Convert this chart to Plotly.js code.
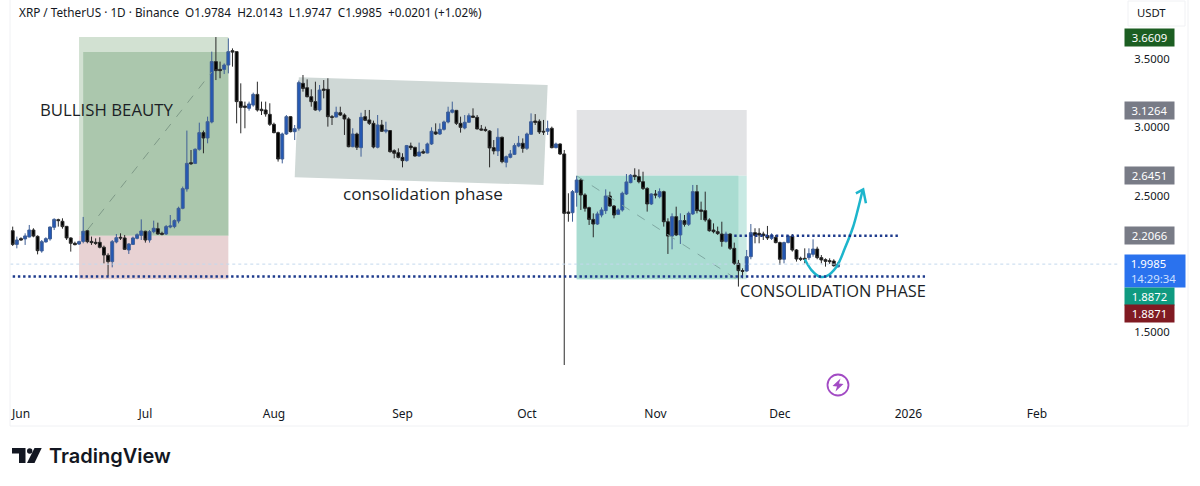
<!DOCTYPE html>
<html>
<head>
<meta charset="utf-8">
<script src="https://cdn.plot.ly/plotly-3.0.1.min.js"></script>
<style>html,body{margin:0;padding:0;background:#fff}#c{width:1200px;height:486px}</style>
</head>
<body>
<div id="c"></div>
<script>
const firstDay = '2025-05-30';
const open = [
2.243,2.143,2.185,2.183,2.197,2.248,2.202,2.095,2.161,2.183,2.268,2.324,2.312,2.275,2.190,2.151,2.146,2.165,2.243,2.165,
2.158,2.158,2.122,2.063,2.017,2.161,2.195,2.190,2.102,2.143,2.187,2.209,2.239,2.175,2.236,2.258,2.224,2.219,2.270,2.273,
2.314,2.407,2.549,2.741,2.736,2.839,2.961,2.922,3.039,3.481,3.424,3.424,3.456,3.561,3.554,3.188,3.156,3.139,3.163,3.241,
3.132,3.127,3.095,3.022,2.961,2.768,2.951,3.078,2.968,2.993,3.322,3.290,3.224,3.188,3.127,3.280,3.278,3.078,3.075,3.107,
3.090,3.061,2.858,2.951,2.851,3.078,3.054,3.029,2.854,3.017,2.971,2.976,2.829,2.814,2.780,2.756,2.863,2.853,2.790,2.822,
2.812,2.878,2.966,2.951,2.985,3.039,3.110,3.124,3.029,2.995,3.037,3.083,3.073,2.988,2.985,2.973,2.851,2.827,2.927,2.744,
2.780,2.802,2.863,2.883,2.846,2.949,3.046,3.044,2.971,2.971,2.993,2.851,2.878,2.805,2.380,2.375,2.524,2.614,2.505,2.412,
2.326,2.292,2.358,2.390,2.497,2.424,2.363,2.395,2.512,2.595,2.649,2.639,2.602,2.553,2.439,2.512,2.492,2.529,2.309,2.204,
2.346,2.212,2.317,2.290,2.366,2.529,2.395,2.390,2.322,2.248,2.236,2.219,2.165,2.219,2.114,2.004,1.951,1.948,2.053,2.229,
2.224,2.219,2.207,2.187,2.195,2.156,2.034,2.156,2.204,2.102,2.041,2.041,2.046,2.070,2.109,2.046,2.031,2.024,2.021,1.9784];
const high = [
2.273,2.200,2.195,2.224,2.285,2.261,2.209,2.175,2.195,2.273,2.334,2.331,2.334,2.278,2.195,2.163,2.170,2.344,2.248,2.200,
2.187,2.195,2.134,2.078,2.175,2.219,2.224,2.212,2.151,2.200,2.224,2.326,2.243,2.248,2.317,2.302,2.236,2.285,2.358,2.326,
2.419,2.566,2.976,2.834,2.846,3.034,2.976,3.078,3.554,3.6609,3.481,3.468,3.651,3.578,3.554,3.322,3.188,3.188,3.254,3.334,
3.188,3.188,3.176,3.034,2.968,2.961,3.090,3.083,3.017,3.342,3.383,3.351,3.278,3.334,3.310,3.346,3.359,3.090,3.151,3.151,
3.102,3.073,2.993,2.961,3.107,3.127,3.127,3.049,3.090,3.054,3.041,2.980,2.839,2.846,2.810,2.871,2.888,2.858,2.888,2.839,
2.888,3.000,3.029,3.029,3.049,3.151,3.188,3.127,3.078,3.090,3.102,3.139,3.090,3.017,3.005,2.980,2.907,2.993,2.932,2.793,
2.834,2.883,2.937,2.919,2.961,3.102,3.097,3.058,3.054,3.049,3.005,2.888,2.883,2.834,2.517,2.541,2.644,2.627,2.517,2.419,
2.370,2.383,2.414,2.546,2.529,2.431,2.407,2.529,2.658,2.658,2.700,2.692,2.675,2.561,2.517,2.541,2.553,2.536,2.334,2.370,
2.419,2.370,2.358,2.383,2.578,2.578,2.456,2.529,2.334,2.297,2.273,2.309,2.236,2.224,2.156,2.029,1.968,2.102,2.292,2.261,
2.261,2.236,2.278,2.224,2.212,2.163,2.163,2.212,2.219,2.109,2.053,2.114,2.114,2.180,2.126,2.065,2.041,2.041,2.034,2.0143];
const low = [
2.131,2.114,2.170,2.139,2.195,2.195,2.070,2.082,2.156,2.170,2.248,2.273,2.258,2.175,2.090,2.136,2.139,2.151,2.151,2.139,
2.139,2.114,2.004,1.912,1.975,2.151,2.175,2.102,2.073,2.139,2.180,2.175,2.156,2.156,2.224,2.214,2.209,2.212,2.261,2.261,
2.297,2.400,2.529,2.724,2.731,2.829,2.810,2.883,3.029,3.346,3.359,3.390,3.395,3.444,3.029,2.956,2.993,3.122,3.151,3.115,
3.090,3.078,3.010,2.956,2.749,2.736,2.944,2.963,2.907,2.976,3.261,3.219,3.151,3.122,3.115,3.212,3.005,3.017,3.073,3.083,
2.944,2.854,2.854,2.834,2.785,3.049,3.017,2.846,2.846,2.966,2.956,2.814,2.773,2.773,2.707,2.749,2.834,2.785,2.785,2.805,
2.810,2.871,2.944,2.944,2.976,3.029,3.102,3.017,2.961,2.985,3.034,3.068,2.985,2.976,2.968,2.707,2.802,2.790,2.737,2.707,
2.773,2.797,2.854,2.814,2.834,2.944,3.017,2.951,2.944,2.944,2.846,2.846,2.797,1.26,2.309,2.309,2.419,2.395,2.383,2.285,
2.195,2.285,2.341,2.366,2.419,2.334,2.358,2.383,2.505,2.590,2.614,2.590,2.541,2.383,2.431,2.480,2.480,2.273,2.073,2.107,
2.204,2.146,2.273,2.278,2.358,2.370,2.322,2.309,2.236,2.224,2.212,2.126,2.156,2.102,1.992,1.834,1.895,1.943,2.034,2.151,
2.151,2.175,2.175,2.175,2.151,1.992,2.004,2.151,2.090,2.017,2.021,2.004,2.029,2.053,2.034,2.004,1.980,2.000,1.980,1.9747];
const close = [
2.143,2.175,2.175,2.205,2.248,2.204,2.097,2.163,2.185,2.270,2.326,2.317,2.273,2.190,2.151,2.141,2.163,2.239,2.163,2.156,
2.151,2.122,2.065,2.017,2.163,2.192,2.190,2.107,2.146,2.190,2.214,2.241,2.175,2.236,2.261,2.219,2.217,2.273,2.278,2.317,
2.407,2.551,2.736,2.734,2.839,2.961,2.922,3.041,3.481,3.415,3.415,3.456,3.554,3.551,3.188,3.146,3.146,3.171,3.241,3.127,
3.122,3.098,3.022,2.961,2.768,2.951,3.078,2.968,2.990,3.327,3.285,3.224,3.188,3.127,3.273,3.271,3.078,3.073,3.110,3.090,
3.061,2.858,2.951,2.854,3.073,3.051,3.029,2.856,3.017,2.971,2.980,2.822,2.810,2.780,2.756,2.866,2.851,2.790,2.819,2.812,
2.878,2.971,2.951,2.985,3.039,3.112,3.127,3.029,3.000,3.037,3.085,3.073,2.988,2.980,2.976,2.849,2.827,2.927,2.749,2.785,
2.805,2.866,2.883,2.846,2.951,3.041,3.036,2.966,2.966,2.990,2.851,2.878,2.805,2.370,2.370,2.529,2.614,2.505,2.407,2.326,
2.292,2.366,2.395,2.497,2.424,2.358,2.395,2.517,2.600,2.649,2.639,2.602,2.553,2.439,2.512,2.505,2.529,2.309,2.204,2.346,
2.212,2.317,2.290,2.370,2.529,2.390,2.385,2.322,2.243,2.236,2.222,2.165,2.219,2.114,2.004,1.951,1.946,2.053,2.229,2.209,
2.212,2.207,2.190,2.212,2.156,2.034,2.156,2.204,2.102,2.036,2.034,2.034,2.075,2.109,2.046,2.029,2.019,2.017,1.987,1.9985];

const monthTicks = ['2025-06-01','2025-07-01','2025-08-01','2025-09-01','2025-10-01','2025-11-01','2025-12-01','2026-01-01','2026-02-01'];
const monthLabels = ['Jun','Jul','Aug','Sep','Oct','Nov','Dec','2026','Feb'];
const priceTicks = [1.5,2.5,3.0,3.5];

const badgeTexts = ['3.6609','3.1264','2.6451','2.2066'];
const badgePrices = [3.6609,3.1264,2.6451,2.2066];
const badgeColors = ['#1c5e22','#787b86','#787b86','#787b86'];

const curveDates = ['2025-12-07 00:00','2025-12-08 15:00','2025-12-10 15:00','2025-12-12 06:00','2025-12-14 16:00','2025-12-16 16:00','2025-12-18 16:00','2025-12-19 21:00','2025-12-20 22:00'];
const curvePrices = [2.034,1.955,1.906,1.911,1.980,2.114,2.272,2.407,2.536];
const headDates = ['2025-12-19 08:00','2025-12-21 02:00','2025-12-21 18:00'];
const headPrices = [2.517,2.546,2.444];

const dates = open.map((_, i) => {
  const d = new Date(firstDay + 'T00:00:00Z');
  d.setUTCDate(d.getUTCDate() + i);
  return d.toISOString().slice(0, 10);
});

const ink = '#131722';
const uiFont = '"Noto Sans", sans-serif';
const PL = 10, PW = 1112, PH = 400;
const fx = x => (x - PL) / PW;
const fy = y => (PH - y) / PH;

const rect = (x0, x1, y0, y1, fill) => ({type:'rect', layer:'below', xref:'x', yref:'y', x0, x1, y0, y1, fillcolor:fill, line:{width:0}});
const seg = (x0, x1, y0, y1, color, width, dash) => ({type:'line', xref:'x', yref:'y', x0, x1, y0, y1, line:{color, width, dash}});
const frame = (x0, y0, x1, y1) => ({type:'line', xref:'paper', yref:'paper', x0:fx(x0), x1:fx(x1), y0:fy(y0), y1:fy(y1), line:{color:'#f0f1f4', width:1}});
const pxPath = (pts, extra) => Object.assign({type:'path', xref:'paper', yref:'paper',
  path:'M' + pts.map(p => fx(p[0]) + ',' + fy(p[1])).join(' L') + ' Z'}, extra);

const shapes = [
  rect('2025-06-15','2025-07-21',2.2066,3.6609,'#d2e1d2'),
  rect('2025-06-16','2025-07-21',2.2066,3.551,'#abc7ad'),
  rect('2025-06-15','2025-07-21',1.8872,2.2066,'#e8d2d3'),
  {type:'path', layer:'below', xref:'x', yref:'y', path:'M2025-08-07,3.366 L2025-10-06,3.310 L2025-10-05,2.578 L2025-08-06,2.634 Z', fillcolor:'#cfd8d6', line:{width:0}},
  rect('2025-10-13','2025-11-23',2.6451,3.1264,'#e2e3e5'),
  rect('2025-10-13','2025-11-23',1.8872,2.6451,'#c8e9e3'),
  rect('2025-10-13','2025-11-21',1.8872,2.6451,'#a9dcd1'),
  seg('2025-06-17','2025-07-17',2.248,3.405,'#7f9a88',1,'dash'),
  seg('2025-10-13','2025-11-21',2.6451,1.88,'#7fa8a2',1,'dash'),
  seg('2025-05-29 10:00','2026-02-21',1.9985,1.9985,'#c3d8ee',1,'dot'),
  seg('2025-05-30','2026-01-05',1.908,1.908,'#1d3a8c',2.5,'2.4px,2.8px'),
  seg('2025-11-20','2025-12-30',2.2066,2.2066,'#1d3a8c',2.5,'2.4px,2.8px'),
  frame(10,0,10,426), frame(10,426,1188,426), frame(1188,0,1188,426),
  {type:'circle', xref:'paper', yref:'paper', x0:fx(827.5), x1:fx(848.5), y0:fy(395.5), y1:fy(374.5), line:{color:'#a24bc4', width:1.8}, fillcolor:'#fff'},
  pxPath([[840.5,378.5],[832.5,386],[837,386.5],[835.5,391.5],[843.5,384],[839,383.5]], {fillcolor:'#a24bc4', line:{width:0}}),
  {type:'rect', xref:'paper', yref:'paper', x0:fx(1128), x1:fx(1185), y0:fy(26), y1:fy(1), fillcolor:'#fff', line:{color:'#f0f1f4', width:1}},
  pxPath([[12,448],[25.5,448],[25.5,463],[19,463],[19,453.5],[12,453.5]], {fillcolor:'#131722', line:{width:0}}),
  {type:'circle', xref:'paper', yref:'paper', x0:fx(27), x1:fx(32.4), y0:fy(453.7), y1:fy(448.3), fillcolor:'#131722', line:{width:0}},
  pxPath([[34.5,448],[41.7,448],[34.5,463],[27,463]], {fillcolor:'#131722', line:{width:0}})
];

const badge = (text, price, color, shift) => ({
  xref:'paper', yref:'y', x:fx(1124), y:price, yshift:shift, xanchor:'left', yanchor:'middle',
  text, showarrow:false, width:49, height:17, bgcolor:color, borderpad:0, align:'center',
  font:{family:uiFont, size:11.3, color:'#fff'}
});
const freeText = (x, y, text, anchor, size, xshift) => ({
  xref:'x', yref:'y', x, y, xshift, text, showarrow:false, xanchor:anchor, yanchor:'middle',
  font:{family:'"Open Sans", sans-serif', size, color:'#1c1f26'}
});
const annotations = [
  {xref:'paper', yref:'paper', x:fx(17), y:fy(12), xanchor:'left', yanchor:'middle', showarrow:false,
   text:'XRP / TetherUS · 1D · Binance&nbsp;&nbsp;O1.9784&nbsp;&nbsp;H2.0143&nbsp;&nbsp;L1.9747&nbsp;&nbsp;C1.9985&nbsp;&nbsp;+0.0201 (+1.02%)',
   font:{family:uiFont, size:11.75, color:ink}},
  {xref:'paper', yref:'paper', x:fx(1151), y:fy(13), xanchor:'center', yanchor:'middle', showarrow:false, text:'USDT',
   font:{family:uiFont, size:11.3, color:ink}},
  ...badgeTexts.map((t, i) => badge(t, badgePrices[i], badgeColors[i], 0)),
  {xref:'paper', yref:'y', x:fx(1124), y:1.9985, yshift:-7, xanchor:'left', yanchor:'middle',
   text:'&nbsp;&nbsp;1.9985<br>&nbsp;&nbsp;<span style="color:#cfe0ff">14:29:34</span>', showarrow:false, width:60, height:32, bgcolor:'#2a72ee', borderpad:0, align:'left',
   font:{family:uiFont, size:11.3, color:'#fff'}},
  badge('1.8872', 1.8872, '#0f9a80', -17),
  badge('1.8871', 1.8871, '#801a22', -34),
  freeText('2025-06-05 20:00', 3.127, 'BULLISH BEAUTY', 'left', 16.8, -3),
  freeText('2025-09-05 22:00', 2.519, 'consolidation phase', 'center', 17.1, 0),
  freeText('2025-11-21 14:00', 1.802, 'CONSOLIDATION PHASE', 'left', 16.4, -3),
  {xref:'paper', yref:'paper', x:fx(47), y:fy(456), xanchor:'left', yanchor:'middle', showarrow:false, text:'TradingView',
   font:{family:'Inter, sans-serif', size:20, weight:600, color:'#131722'}}
];

Plotly.newPlot('c', [
  {type:'candlestick', x:dates, open, high, low, close, hoverinfo:'skip', whiskerwidth:0,
   increasing:{fillcolor:'#2458b4', line:{color:'#3f5f96', width:1}},
   decreasing:{fillcolor:'#000000', line:{color:'#2a2a2a', width:1}}},
  {type:'scatter', mode:'lines', x:curveDates, y:curvePrices, hoverinfo:'skip', line:{color:'#1db5cc', width:2.5, shape:'spline'}},
  {type:'scatter', mode:'lines', x:headDates, y:headPrices, hoverinfo:'skip', line:{color:'#1db5cc', width:2.5}}
], {
  width:1200, height:486, showlegend:false, paper_bgcolor:'#fff', plot_bgcolor:'rgba(0,0,0,0)',
  margin:{l:10, r:78, t:0, b:86}, boxgap:0.3, boxgroupgap:0,
  xaxis:{type:'date', range:['2025-05-29 08:24','2026-02-21 12:00'], rangeslider:{visible:false}, showgrid:false, zeroline:false, showline:false,
    tickmode:'array', tickvals:monthTicks, ticktext:monthLabels, ticks:'outside', ticklen:3, tickcolor:'rgba(0,0,0,0)', tickfont:{family:uiFont, size:12, color:ink}},
  yaxis:{type:'linear', range:[1.0038,3.932], side:'right', showgrid:false, zeroline:false, showline:false,
    tickmode:'array', tickvals:priceTicks, tickformat:'.4f', ticks:'outside', ticklen:9, tickcolor:'rgba(0,0,0,0)', tickfont:{family:uiFont, size:11.3, color:ink}},
  shapes, annotations
}, {displayModeBar:false, staticPlot:true});
</script>
</body>
</html>
